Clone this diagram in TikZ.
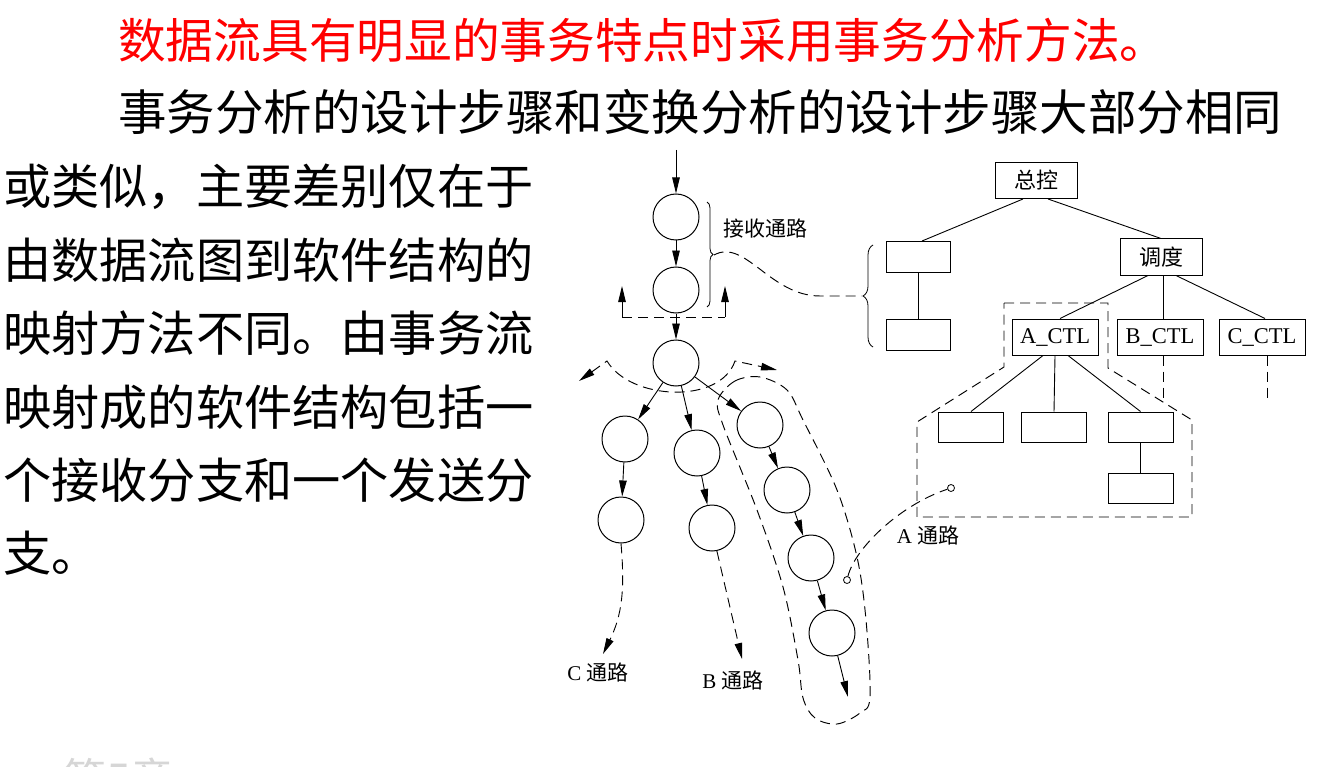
\documentclass[tikz,border=0pt]{standalone}
\usepackage{fontspec}
\setmainfont{Liberation Serif}
\newfontfamily\cjk{Noto Sans CJK SC}
\usetikzlibrary{arrows.meta,decorations.pathreplacing,calc}
\begin{document}
\begin{tikzpicture}[x=1pt,y=-1pt,
  circ/.style={circle,draw,line width=1pt,minimum size=46pt,inner sep=0},
  box/.style={draw,line width=1pt,minimum width=64pt,minimum height=31pt,inner sep=0},
  bigbox/.style={box,minimum width=82pt,minimum height=36pt},
  ctlbox/.style={box,minimum width=86pt,minimum height=36pt},
  chbox/.style={box,minimum width=65pt,minimum height=30pt},
  tip/.tip={Triangle[length=16pt,width=7.5pt]},
  arr/.style={line width=0.9pt,-tip},
  dsh/.style={line width=0.95pt,dash pattern=on 10pt off 6pt},
  conn/.style={line width=0.9pt},
  lbl/.style={font=\fontsize{21}{21}\selectfont,inner sep=0},
  bigtxt/.style={anchor=west,inner sep=0}
]
\useasboundingbox (0,0) rectangle (1329,767);
\fill[white] (0,0) rectangle (1329,767);

% ---- text ----
\node[bigtxt,text=red,font=\cjk\fontsize{47.7}{48}\selectfont] (t1) at (118,40) {数据流具有明显的事务特点时采用事务分析方法。};
\node[bigtxt,font=\cjk\fontsize{48.5}{48}\selectfont] (t2) at (118,112) {事务分析的设计步骤和变换分析的设计步骤大部分相同};
\node[bigtxt,font=\cjk\fontsize{48.2}{48}\selectfont] (p1) at (3,187) {或类似，主要差别仅在于};
\node[bigtxt,font=\cjk\fontsize{48.2}{48}\selectfont] (p2) at (3,260) {由数据流图到软件结构的};
\node[bigtxt,font=\cjk\fontsize{48.2}{48}\selectfont] (p3) at (3,333) {映射方法不同。由事务流};
\node[bigtxt,font=\cjk\fontsize{48.2}{48}\selectfont] (p4) at (3,407) {映射成的软件结构包括一};
\node[bigtxt,font=\cjk\fontsize{48.2}{48}\selectfont] (p5) at (3,480) {个接收分支和一个发送分};
\node[bigtxt,font=\cjk\fontsize{48.2}{48}\selectfont] (p6) at (3,553) {支。};
\node[bigtxt,text=black!16,font=\cjk\fontsize{44}{44}\selectfont] (ft) at (62,778) {第5章};

% ---- data flow circles ----
\node[circ] (r1) at (676,217) {};
\node[circ] (r2) at (676,290) {};
\node[circ] (r3) at (676,363) {};
\node[circ] (c1) at (625,439) {};
\node[circ] (c2) at (621,520) {};
\node[circ] (b1) at (697,453) {};
\node[circ] (b2) at (712,528) {};
\node[circ] (a1) at (760,425) {};
\node[circ] (a2) at (787,490) {};
\node[circ] (a3) at (811,558) {};
\node[circ] (a4) at (832,633) {};

\coordinate (in) at (676,150);
\draw[arr] (in) -- (r1);
\draw[arr] (r1) -- (r2);
\draw[arr] (r2) -- (r3);
\draw[arr] (r3) -- (c1);
\draw[arr] (r3) -- (b1);
\draw[arr] (r3) -- (a1);
\draw[arr] (c1) -- (c2);
\draw[arr] (b1) -- (b2);
\draw[arr] (a1) -- (a2);
\draw[arr] (a2) -- (a3);
\draw[arr] (a3) -- (a4);

% split dashed line with up arrows
\coordinate (sl) at (622,317);
\coordinate (sr) at (725,317);
\coordinate (slt) at (622,286);
\coordinate (srt) at (725,286);
\draw[dsh] (sl) -- (sr);
\draw[arr] (sl) -- (slt);
\draw[arr] (sr) -- (srt);

% brace of receive path
\draw[line width=0.8pt,decorate,decoration={brace,amplitude=6pt}] (707,202) -- (707,307);
\node[lbl,font=\cjk\fontsize{21}{21}\selectfont] (lr) at (765,229) {接收通路};
\draw[line width=0.8pt,decorate,decoration={brace,amplitude=10pt}] (873,347) -- (873,245);
\coordinate (bt1) at (714,255);
\coordinate (bt2) at (862,296);
\draw[dsh] (bt1) .. controls (745,238) and (770,296) .. (820,296) -- (bt2);

% wave around transaction centre
\coordinate (wl) at (579,381);
\coordinate (wp1) at (607,361);
\coordinate (wp2) at (735,361);
\coordinate (wr) at (777,370);
\draw[dsh,tip-tip] (wl) -- (wp1) .. controls (630,400) and (720,405) .. (wp2) -- (wr);

% C, B, A paths
\coordinate (cp) at (603,654);
\draw[dsh,arr] (c2.south) .. controls (625,590) and (622,615) .. (cp);
\node[lbl] (cl) at (598,672) {C {\cjk 通路}};
\coordinate (bp) at (742,659);
\draw[dsh,arr] (b2.-78) -- (bp);
\node[lbl] (bl) at (733,680) {B {\cjk 通路}};
\coordinate (ap) at (848,697);
\draw[arr] (a4) -- (ap);

% loop around A path
\draw[dsh] plot[smooth cycle,tension=0.55] coordinates {(718,400) (735,381) (760,377) (787,390) (803,420) (837,490) (857,557) (866,620) (870,697) (860,713) (837,724) (815,718) (803,698) (798,660) (783,587) (757,510) (723,425)};

\node[circle,draw,line width=0.8pt,minimum size=7pt,inner sep=0] (s1) at (847,580) {};
\node[circle,draw,line width=0.8pt,minimum size=7pt,inner sep=0] (s2) at (951,488) {};
\draw[dsh] (s1) .. controls (855,548) and (900,505) .. (s2);
\node[lbl] (al) at (928,535) {A {\cjk 通路}};

% ---- structure chart ----
\node[bigbox,font=\cjk\fontsize{22}{22}\selectfont] (zk) at (1036,180.5) {总控};
\node[box] (l1) at (918,257) {};
\node[box] (l2) at (918,335) {};
\node[bigbox,font=\cjk\fontsize{22}{22}\selectfont] (dd) at (1161,257) {调度};
\node[ctlbox,font=\fontsize{22.5}{22}\selectfont] (actl) at (1055,337) {A\_CTL};
\node[ctlbox,font=\fontsize{22.5}{22}\selectfont] (bctl) at (1160,337) {B\_CTL};
\node[ctlbox,font=\fontsize{22.5}{22}\selectfont] (cctl) at (1262,337) {C\_CTL};
\node[chbox] (ch1) at (971,427) {};
\node[chbox] (ch2) at (1054,427) {};
\node[chbox] (ch3) at (1140.5,427) {};
\node[chbox] (ch4) at (1140.5,488) {};

\draw[conn] ([xshift=-13pt]zk.south) -- ([xshift=4pt]l1.north);
\draw[conn] ([xshift=12pt]zk.south) -- (dd.north);
\draw[conn] (l1) -- (l2);
\draw[conn] ([xshift=-13pt]dd.south) -- ([xshift=5pt]actl.north);
\draw[conn] ([xshift=2pt]dd.south) -- ([xshift=3pt]bctl.north);
\draw[conn] ([xshift=15pt]dd.south) -- ([xshift=3pt]cctl.north);
\draw[conn] ([xshift=-12pt]actl.south) -- (ch1.north);
\draw[conn] (actl.south) -- (ch2.north);
\draw[conn] ([xshift=13pt]actl.south) -- (ch3.north);
\draw[conn] (ch3) -- (ch4);

\coordinate (bd) at (1163,398);
\coordinate (cd) at (1267,398);
\draw[dsh] ([xshift=3pt]bctl.south) -- (bd);
\draw[dsh] ([xshift=5pt]cctl.south) -- (cd);

\draw[dsh] (1004,303) -- (1108,303) -- (1108,368) -- (1192,420) -- (1192,517) -- (917,517) -- (917,422) -- (1004,367) -- cycle;
\end{tikzpicture}
\end{document}
